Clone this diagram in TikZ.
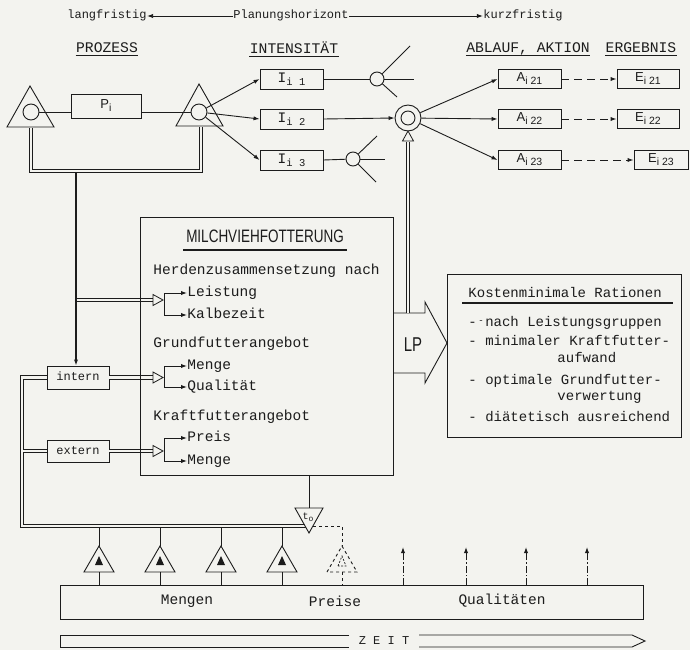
\documentclass[tikz,border=0pt]{standalone}
\usepackage{fontspec}
\setmainfont{Liberation Mono}
\setsansfont{Liberation Sans}
\newfontfamily\condfont{Liberation Sans}
\usetikzlibrary{arrows.meta}
\definecolor{paper}{RGB}{243,243,239}
\definecolor{ink}{RGB}{28,28,28}
\newcommand\fs[1]{\fontsize{#1}{#1}\selectfont}
\newcommand\lsub[1]{\raisebox{-3pt}{\fs{10.5}#1}}
\begin{document}
\begin{tikzpicture}[x=1pt,y=-1pt,ink,line width=0.9pt,
 every node/.style={inner sep=0pt},
 box/.style={draw,fill=paper,minimum height=20pt},
 mono/.style={font=\fs{14.5}},
 hd/.style={font=\fs{14.7},text depth=0pt},
 tl/.style={font=\fs{14.5},anchor=west,text height=9pt,text depth=2.5pt},
 kt/.style={font=\fs{14},anchor=west,text height=9pt,text depth=2.5pt},
 sm/.style={font=\fs{12},text height=8pt,text depth=2pt},
 dbl/.style={double=paper,double distance=2.6pt,line width=0.8pt},
 arr/.style={-{Latex[length=6pt,width=4.2pt]}},
 ohead/.pic={\draw[fill=paper,line width=0.8pt] (0,0) -- (-10,-5.5) -- (-10,5.5) -- cycle;},
 ul/.style={line width=1.1pt}]
\fill[paper] (0,0) rectangle (690,650);
\useasboundingbox (0,0) rectangle (690,650);

% top line
\node[sm] (lang) at (107,16) {langfristig};
\node[sm] (plan) at (291,16) {Planungshorizont};
\node[sm] (kurz) at (523,16) {kurzfristig};
\draw[arr,line width=0.8pt] (plan.west) -- (lang.east);
\draw[arr,line width=0.8pt] (plan.east) -- (kurz.west);

% headings
\node[hd] (hP) at (107,48) {PROZESS};
\node[hd] (hI) at (294,48) {INTENSITÄT};
\node[hd] (hA) at (528,48) {ABLAUF, AKTION};
\node[hd] (hE) at (641,48) {ERGEBNIS};
\foreach \h in {hP,hI,hA,hE} \draw[ul] ([yshift=-3pt]\h.base west) -- ([yshift=-3pt]\h.base east);

% process
\draw (7,127) -- (30,86) -- (54,127) -- cycle;
\node[circle,draw,minimum size=16pt] (cL) at (31,112) {};
\draw (176,126) -- (199,84) -- (223,126) -- cycle;
\node[circle,draw,minimum size=16pt] (cR) at (199,112) {};
\node[box,minimum width=70pt,minimum height=24pt,font=\sffamily\fs{13}] (P) at (106,106) {P\lsub{i}};
\draw (cL.east) -- (P.west |- cL.east);
\draw (P.east |- cR.west) -- (cR.west);

% intensities
\foreach \n/\y in {1/79,2/119,3/160}{
 \node[box,minimum width=63pt,mono] (I\n) at (291.5,\y) {I\lsub{i \n}};
 \draw[arr] (cR) -- (I\n.west);
}
\node[circle,draw,minimum size=14pt] (s1) at (377,79) {};
\node[circle,draw,minimum size=14pt] (s3) at (353,159) {};
\draw (I1.east) -- (s1);
\draw (I3.east) -- (s3);
\coordinate (s1a) at (410,46); \coordinate (s1b) at (414,79); \coordinate (s1c) at (397,97);
\coordinate (s3a) at (377,136); \coordinate (s3b) at (385,159); \coordinate (s3c) at (376,182);
\foreach \c in {s1a,s1b,s1c} \draw (s1) -- (\c);
\foreach \c in {s3a,s3b,s3c} \draw (s3) -- (\c);

\node[circle,draw,minimum size=26pt] (D) at (408,118) {};
\node[circle,draw,minimum size=14pt] (Di) at (408,118) {};
\draw[arr] (I2.east) -- (D.west);

% actions and results
\foreach \n/\y in {21/79,22/119,23/160}{
  \node[box,minimum width=63pt,minimum height=19pt,font=\sffamily\fs{13}] (A\n) at (529.5,\y) {A\lsub{i \n}};
  \draw[arr] (D) -- (A\n.west);
}
\node[box,minimum width=62pt,minimum height=19pt,font=\sffamily\fs{13}] (E21) at (648,79) {E\lsub{i 21}};
\node[box,minimum width=62pt,minimum height=19pt,font=\sffamily\fs{13}] (E22) at (648,119) {E\lsub{i 22}};
\node[box,minimum width=54pt,minimum height=19pt,font=\sffamily\fs{13}] (E23) at (661,160) {E\lsub{i 23}};
\foreach \n in {21,22,23} \draw[arr,dash pattern=on 8pt off 5pt] (A\n.east) -- (E\n.west);

% process double line
\coordinate (pl) at (31,127.5);
\coordinate (pr) at (201,126.5);
\draw[dbl] (pl) -- (31,171) -- (201,171) -- (pr);
\coordinate (pj) at (76,172.8);
\node[box,minimum width=62pt,minimum height=23pt,sm] (intern) at (78,377.5) {intern};
\node[box,minimum width=62pt,minimum height=22pt,sm] (extern) at (78,451) {extern};
\draw[arr,line width=1.3pt] (pj) -- (pj |- intern.north);

\coordinate (b1) at (163,300);
\coordinate (b2) at (163,377.5);
\coordinate (b3) at (163,451);
\draw[dbl] ([xshift=0.7pt]pj |- b1) -- ([xshift=-9pt]b1);
\draw[dbl] (intern.east) -- ([xshift=-9pt]b2);
\draw[dbl] (extern.east) -- ([xshift=-9pt]b3);
\foreach \b in {b1,b2,b3} \pic at (\b) {ohead};

% feedback loop
\coordinate (fl1) at (22,377.5);
\coordinate (fl2) at (22,526);
\coordinate (t0j) at (309,526);
\coordinate (fx) at (23.3,451);
\draw[dbl] (intern.west) -- (fl1) -- (fl2) -- (t0j);
\draw[dbl] (fx) -- (extern.west);
\coordinate (t0l) at (295,508); \coordinate (t0r) at (323,508); \coordinate (t0b) at (309,533);
\draw[fill=paper] (t0l) -- (t0r) -- (t0b) -- cycle;
\node[font=\fs{10}] (t0) at (308,517) {t\raisebox{-2pt}{\fs{8}o}};

% dashed branch
\coordinate (dj) at (313,526); \coordinate (dc) at (342,526);
\coordinate (dta) at (342,546); \coordinate (dtl) at (327,572); \coordinate (dtr) at (357,572);
\draw[dashed] (dj) -- (dc) -- (dta);
\draw[dashed] (dtl) -- (dta) -- (dtr) -- cycle;
\draw[line width=0.7pt,dash pattern=on 2pt off 1.5pt] (338,566) -- (342,556) -- (346,566) -- cycle;
\draw[dashed] (342,572) -- (342,585);

% small triangles
\foreach \x in {99,160,221,282}{
 \draw (\x-15,572) -- (\x,546) -- (\x+15,572) -- cycle;
 \fill (\x-4,565) -- (\x,556) -- (\x+4,565) -- cycle;
 \draw (\x,527.7) -- (\x,546);
 \draw (\x,572) -- (\x,585);
}

% quantities box
\node[draw,minimum width=583pt,minimum height=34pt] (Q) at (351.5,602) {};
\node[mono] (qM) at (187,601) {Mengen};
\node[mono] (qP) at (335,601) {Preise};
\node[mono] (qQ) at (502,601) {Qualitäten};
\foreach \x in {403,466,526,587} \draw[arr,dash pattern=on 7pt off 2pt on 1.5pt off 2pt] (\x,585) -- (\x,547);

% time arrow
\node[font=\fs{12}] (zeit) at (384,641) {Z E I T};
\draw (349,635) -- (60,635) -- (60,647) -- (349,647);
\draw (419,635) -- (632,635) -- (645,641) -- (632,647) -- (419,647);

% cost box
\node[draw,minimum width=234pt,minimum height=163pt] (K) at (564,355.5) {};
\node[kt] (k0) at (468,294) {Kostenminimale Rationen};
\draw[ul] (462,303) -- (673,303);
\node[kt] (k1) at (468,323) {-\makebox[0.6em]{\raisebox{3pt}{\fs{9}-}}nach Leistungsgruppen};
\node[kt] (k2) at (468,342) {- minimaler Kraftfutter-};
\node[kt] (k2b) at (557,359) {aufwand};
\node[kt] (k3) at (468,381) {- optimale Grundfutter-};
\node[kt] (k3b) at (557,397) {verwertung};
\node[kt] (k4) at (468,418) {- diätetisch ausreichend};

% LP arrow
\draw (393,313) -- (425,313) -- (425,302) -- (447,343) -- (425,383) -- (425,373) -- (393,373);
\node (lp) at (413,345) {\scalebox{0.75}[1]{\condfont\fs{20}LP}};
\draw[dbl] (408,313) -- (408,141.5);
\pic[rotate=90] at (408,131) {ohead};

% main box
\node[draw,minimum width=253pt,minimum height=258pt] (M) at (266.5,346) {};
\draw (M.south -| t0b) -- (t0l -| t0b);
\node (mt) at (265,236) {\scalebox{0.75}[1]{\condfont\fs{18}MILCHVIEHFOTTERUNG}};
\draw[ul] (183,250) -- (347,250);
\node[tl] (herd) at (153,271) {Herdenzusammensetzung nach};
\node[tl] (leist) at (187,293) {Leistung};
\node[tl] (kalb) at (187,315) {Kalbezeit};
\node[tl] (grund) at (153,344) {Grundfutterangebot};
\node[tl] (menge1) at (187,366) {Menge};
\node[tl] (qual) at (187,387) {Qualität};
\node[tl] (kraft) at (153,417) {Kraftfutterangebot};
\node[tl] (preis) at (187,438) {Preis};
\node[tl] (menge2) at (187,461) {Menge};
\draw[arr] (164,304) |- (leist.west);
\draw[arr] (164,302) |- (kalb.west);
\draw[arr] (164,377) |- (menge1.west);
\draw[arr] (164,376) |- (qual.west);
\draw[arr] (164,450) |- (preis.west);
\draw[arr] (164,449) |- (menge2.west);
\end{tikzpicture}
\end{document}
